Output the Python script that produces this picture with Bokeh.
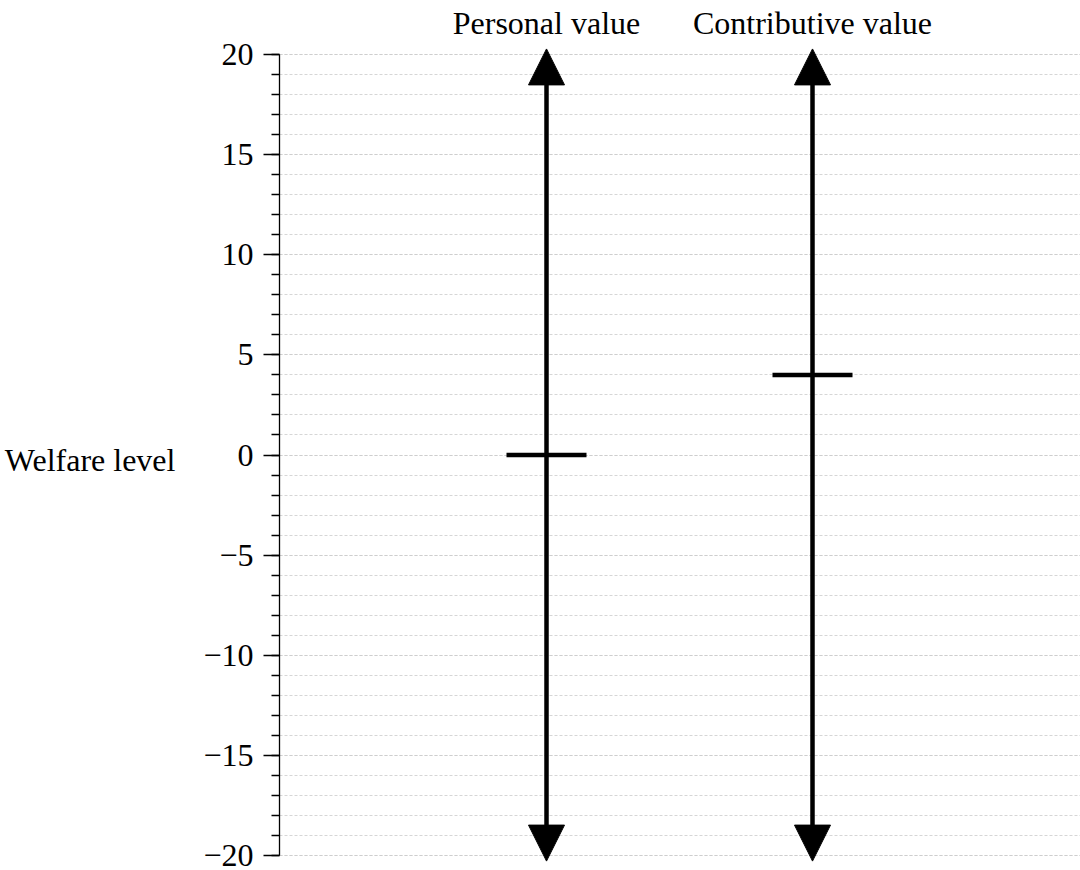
from bokeh.plotting import figure
from bokeh.models import Range1d, FixedTicker, Arrow, NormalHead, ColumnDataSource, LinearAxis
from bokeh.embed import file_html
from bokeh.resources import INLINE

# ---- data ----
categories = ["Personal value", "Contributive value"]
category_x = [1, 2]
welfare_values = [0, 4]
y_limits = [-20, 20]
major_ticks = [-20, -15, -10, -5, 0, 5, 10, 15, 20]
minor_ticks = list(range(-20, 21))
tick_labels = ["\u221220", "\u221215", "\u221210", "\u22125", "0", "5", "10", "15", "20"]
y_label = "Welfare level"

# ---- layout / style ----
FONT = "Liberation Serif"
FS = "32px"
W, H = 1080, 870
LEFT = 279          # frame left (canvas px)
TOP = 48            # frame top (canvas px)
Y_TOP_PX, Y_BOT_PX = 54, 855   # canvas px of y = 20 and y = -20
X_PX = [546, 812]              # canvas px of the two category positions
px_per_x = (X_PX[1] - X_PX[0]) / (category_x[1] - category_x[0])
x_start = category_x[0] - (X_PX[0] - LEFT) / px_per_x
x_end = x_start + (W - LEFT) / px_per_x
px_per_y = (Y_BOT_PX - Y_TOP_PX) / (y_limits[1] - y_limits[0])
y_end = y_limits[1] + (Y_TOP_PX - TOP) / px_per_y
y_start = y_limits[0] - (H - Y_BOT_PX) / px_per_y
ARROW_OVERSHOOT = 0.28

p = figure(width=W, height=H,
           x_range=Range1d(x_start, x_end),
           y_range=Range1d(y_start, y_end),
           x_axis_type=None, output_backend="svg", toolbar_location=None,
           min_border_left=LEFT, min_border_right=0,
           min_border_top=TOP, min_border_bottom=0)
p.outline_line_color = None
p.background_fill_color = "white"
p.border_fill_color = "white"

# left (welfare) axis
ax = p.yaxis[0]
ax.ticker = FixedTicker(ticks=major_ticks, minor_ticks=minor_ticks)
ax.bounds = (y_limits[0], y_limits[1])
ax.major_label_overrides = dict(zip(major_ticks, tick_labels))
ax.major_tick_out = 16
ax.major_tick_in = 0
ax.minor_tick_out = 8
ax.minor_tick_in = 0
for attr in ("major_tick_line", "minor_tick_line", "axis_line"):
    setattr(ax, attr + "_width", 1.3)
    setattr(ax, attr + "_color", "black")
ax.major_label_text_font = FONT
ax.major_label_text_font_size = FS
ax.major_label_text_color = "black"
ax.major_label_standoff = 10
ax.axis_label = y_label
ax.axis_label_orientation = "horizontal"
ax.axis_label_text_font = FONT
ax.axis_label_text_font_size = FS
ax.axis_label_text_font_style = "normal"
ax.axis_label_text_color = "black"
ax.axis_label_standoff = 25

# top axis carrying the category names
top_ax = LinearAxis(ticker=FixedTicker(ticks=category_x, minor_ticks=[]),
                    major_label_overrides=dict(zip(category_x, categories)),
                    axis_line_color=None, major_tick_line_color=None,
                    minor_tick_line_color=None, major_tick_out=0, major_tick_in=0,
                    major_label_text_font=FONT, major_label_text_font_size=FS,
                    major_label_text_line_height=0.8,
                    major_label_text_color="black", major_label_standoff=8)
p.add_layout(top_ax, "above")

g = p.ygrid[0]
g.grid_line_color = "#cccccc"
g.grid_line_dash = "3 2"
g.grid_line_width = 0.8
g.minor_grid_line_color = "#cccccc"
g.minor_grid_line_dash = "3 2"
g.minor_grid_line_width = 0.8

src = ColumnDataSource(dict(
    x=category_x,
    val=welfare_values,
    lo=[y_limits[0] - ARROW_OVERSHOOT] * len(category_x),
    hi=[y_limits[1] + ARROW_OVERSHOOT] * len(category_x),
))

head = dict(size=36, fill_color="black", line_color="black", line_width=1)
p.add_layout(Arrow(start=NormalHead(**head), end=NormalHead(**head),
                   x_start="x", y_start="lo", x_end="x", y_end="hi",
                   source=src, line_width=4.5, line_color="black"))

p.scatter(x="x", y="val", source=src, marker="dash", size=80,
          line_width=4.5, line_color="black")

open("out.html", "w").write(file_html(p, INLINE))
